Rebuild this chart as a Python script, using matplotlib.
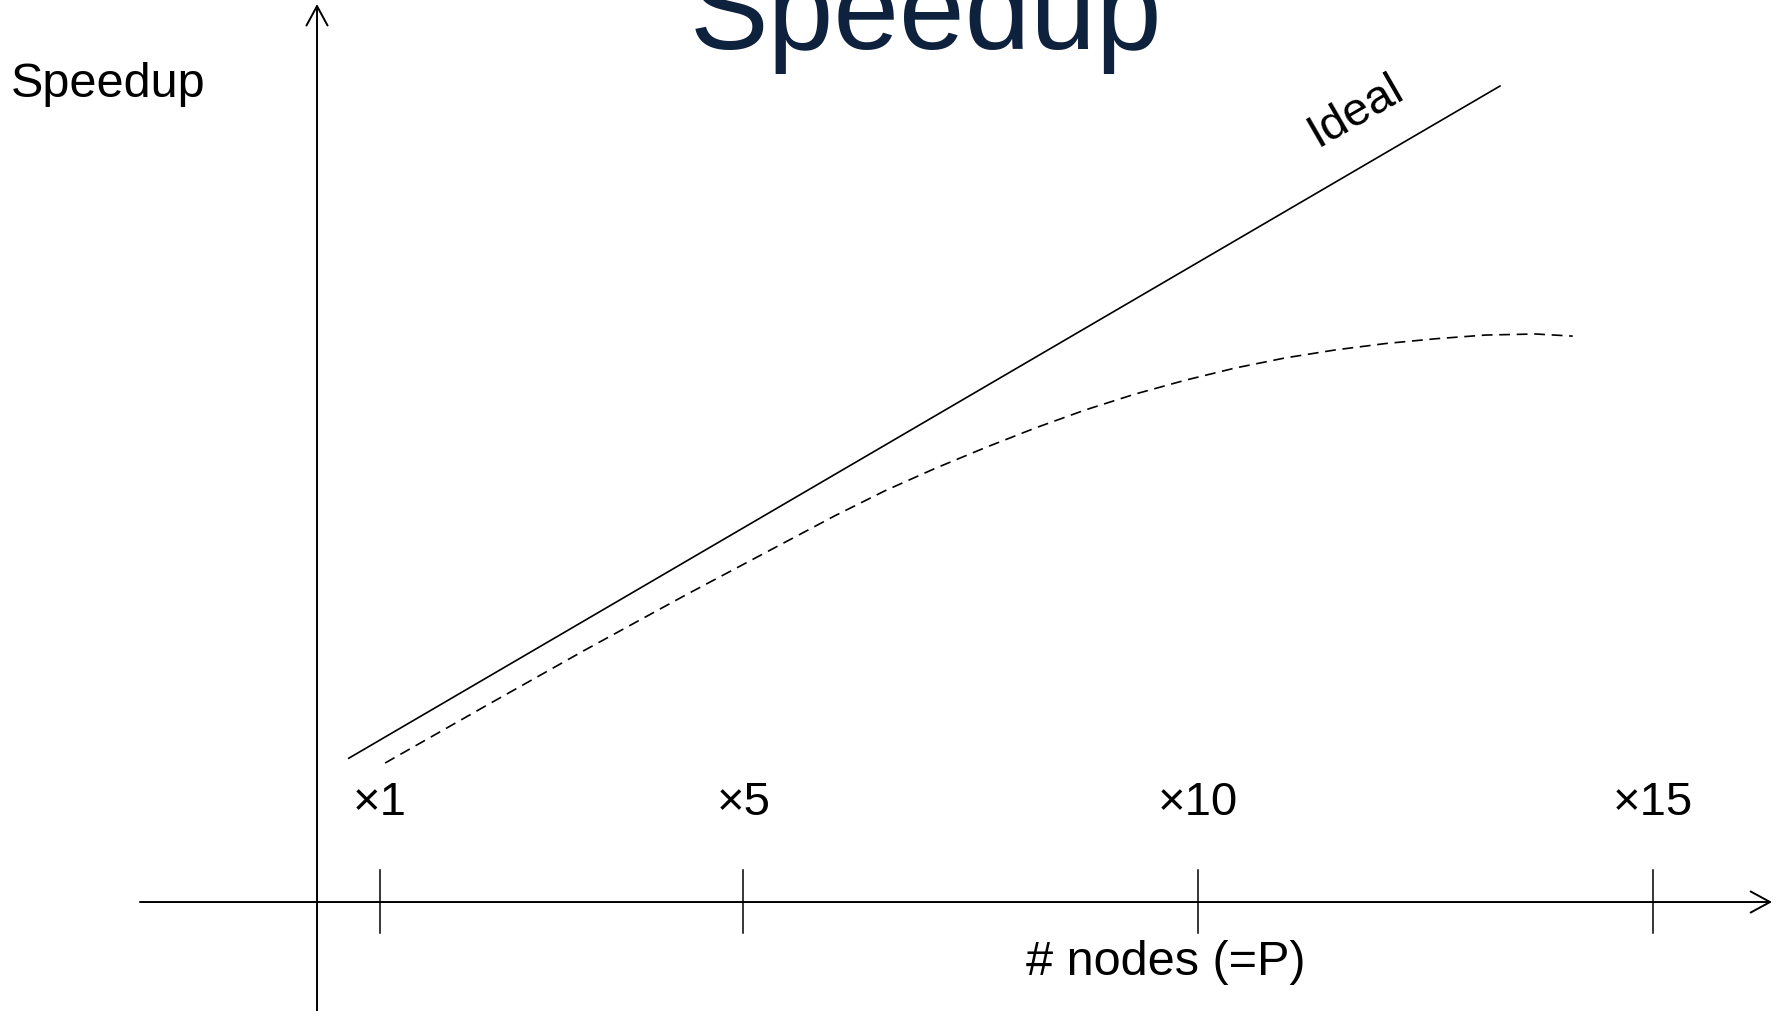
import matplotlib.pyplot as plt
import matplotlib.transforms as mtransforms

plt.rcParams['font.family'] = ['Liberation Sans', 'DejaVu Sans']

# number of nodes (P) and speedup
tick_values = [1, 5, 10, 15]
tick_labels = ['×1', '×5', '×10', '×15']

ideal_n = [0.66, 13.32]
ideal_speedup = [0.66, 13.32]

measured_n = [1.06, 2.16, 3.26, 4.36, 5.46, 6.01, 6.56, 7.11, 7.66, 8.21, 8.76,
              9.31, 9.86, 10.41, 10.96, 11.51, 12.06, 12.61, 13.16, 13.71, 14.12]
measured_speedup = [0.57, 1.64, 2.70, 3.73, 4.73, 5.23, 5.70, 6.12, 6.51, 6.88, 7.22,
                    7.52, 7.78, 8.01, 8.20, 8.35, 8.47, 8.56, 8.63, 8.65, 8.61]

fig = plt.figure(figsize=(17.81, 10.11), dpi=100)
ax = fig.add_axes([0, 0, 1, 1])
ax.set_xlim(-3.175, 16.41)
ax.set_ylim(-4.10, 14.94)
ax.axis('off')

# ideal and measured speedup
ax.plot(ideal_n, ideal_speedup, color='black', lw=1.2)
ax.plot(measured_n, measured_speedup, color='black', lw=1.2, linestyle=(0, (6.5, 4)))

# hand-drawn style axes with open arrow heads
arrow = dict(arrowstyle='->, head_length=0.7, head_width=0.38', mutation_scale=20,
             color='black', lw=1.4, shrinkA=0, shrinkB=0)
ax.annotate('', xy=(0.995, 0.1078), xytext=(0.0786, 0.1078),
            xycoords='axes fraction', textcoords='axes fraction', arrowprops=arrow)
ax.annotate('', xy=(0.178, 0.996), xytext=(0.178, -0.01),
            xycoords='axes fraction', textcoords='axes fraction', arrowprops=arrow)

# ticks and their labels on the x axis
trans = mtransforms.blended_transform_factory(ax.transData, ax.transAxes)
for v, lab in zip(tick_values, tick_labels):
    ax.plot([v, v], [0.0772, 0.1395], color='black', lw=1.1, transform=trans)
    ax.text(v, 0.1939, lab, transform=trans, ha='center', va='baseline', fontsize=34)

fig.text(0.52, 0.9515, 'Speedup', ha='center', va='baseline', fontsize=85, color='#0e223e')
fig.text(0.0062, 0.904, 'Speedup', ha='left', va='baseline', fontsize=35)
fig.text(0.6547, 0.0356, '# nodes (=P)', ha='center', va='baseline', fontsize=35)
fig.text(0.7614, 0.890, 'Ideal', ha='center', va='center', rotation=30,
         rotation_mode='anchor', fontsize=34)

fig.savefig('out.png', dpi=100)
